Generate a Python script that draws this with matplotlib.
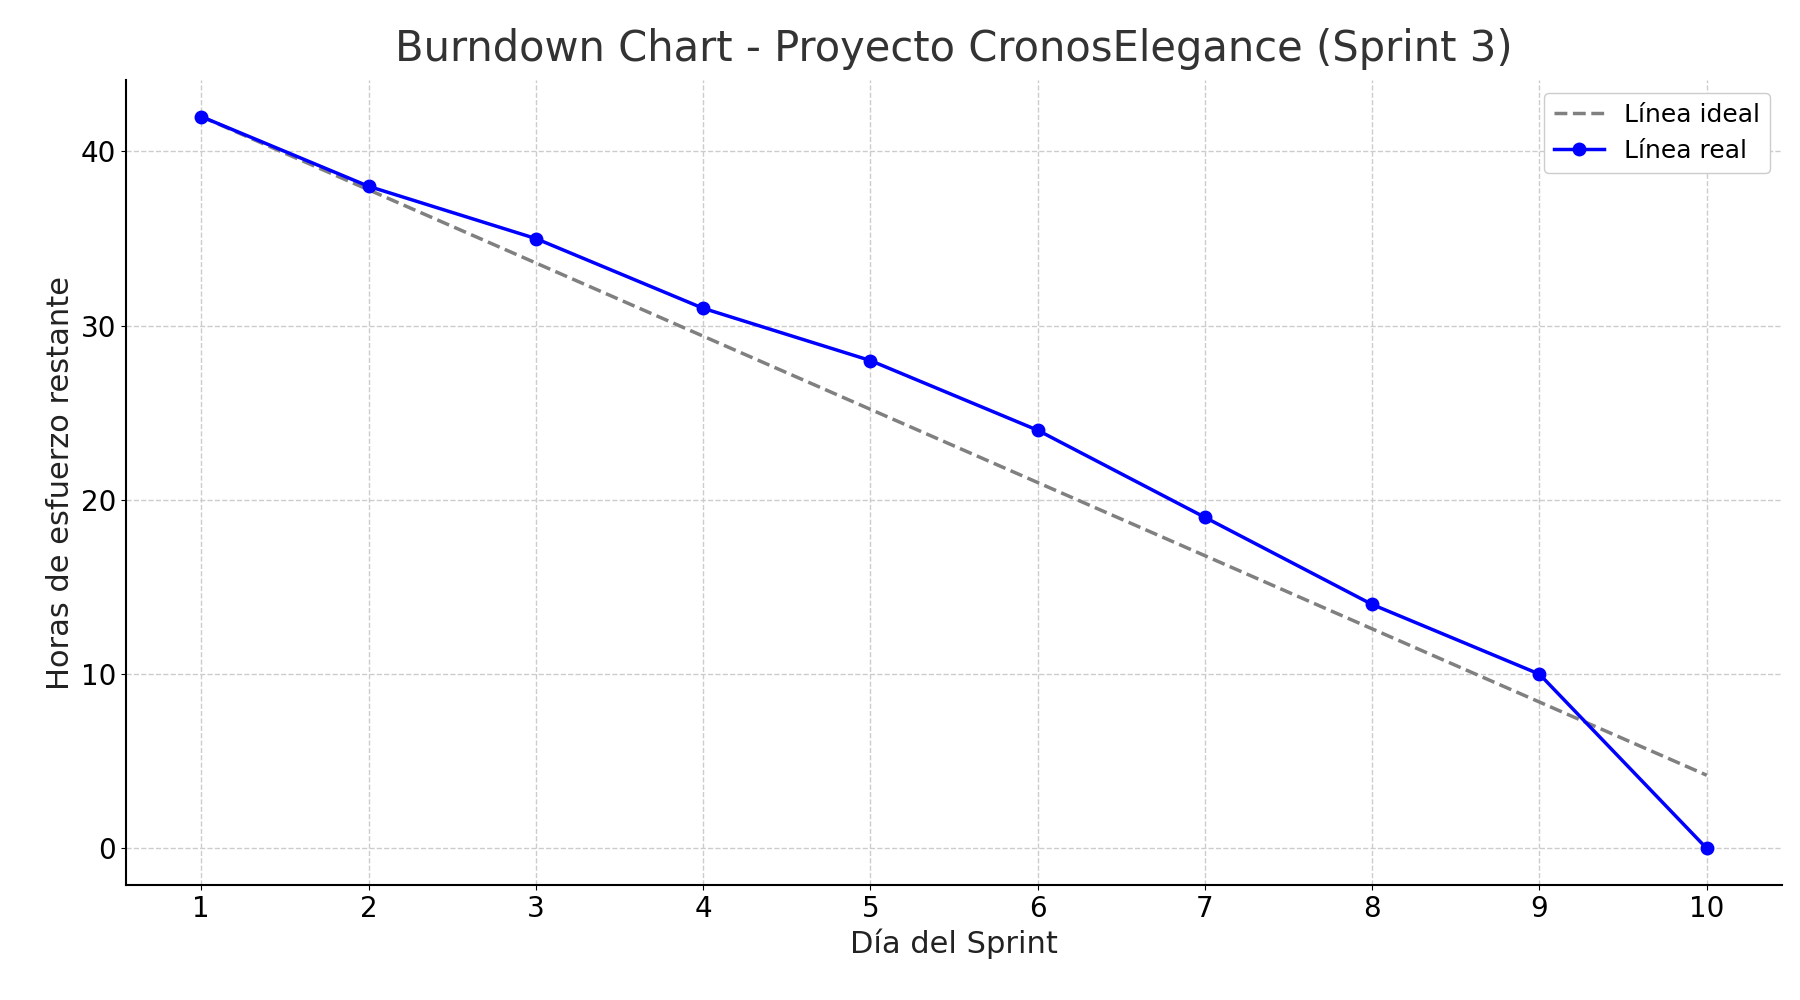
import matplotlib.pyplot as plt

# data
dias = [1, 2, 3, 4, 5, 6, 7, 8, 9, 10]
ideal = [42, 37.8, 33.6, 29.4, 25.2, 21.0, 16.8, 12.6, 8.4, 4.2]
real = [42, 38, 35, 31, 28, 24, 19, 14, 10, 0]

fig, ax = plt.subplots(figsize=(18, 10), dpi=100)
ax.plot(dias, ideal, linestyle="--", color="gray", linewidth=2.5, label="Línea ideal")
ax.plot(dias, real, marker="o", color="blue", linewidth=2.5, markersize=9, label="Línea real")

ax.set_title("Burndown Chart - Proyecto CronosElegance (Sprint 3)", fontsize=30, color="#333333", pad=14)
ax.set_xlabel("Día del Sprint", fontsize=22, color="#222222")
ax.set_ylabel("Horas de esfuerzo restante", fontsize=22, color="#222222")
ax.set_xticks(dias)
ax.tick_params(labelsize=20)
ax.grid(True, linestyle="--", color="#cccccc", linewidth=1)
ax.spines["top"].set_visible(False)
ax.spines["right"].set_visible(False)
ax.spines["left"].set_linewidth(1.5)
ax.spines["bottom"].set_linewidth(1.5)
ax.legend(fontsize=18, loc="upper right", framealpha=1)

fig.subplots_adjust(left=0.07, right=0.99, top=0.92, bottom=0.115)
fig.savefig("out.png")
